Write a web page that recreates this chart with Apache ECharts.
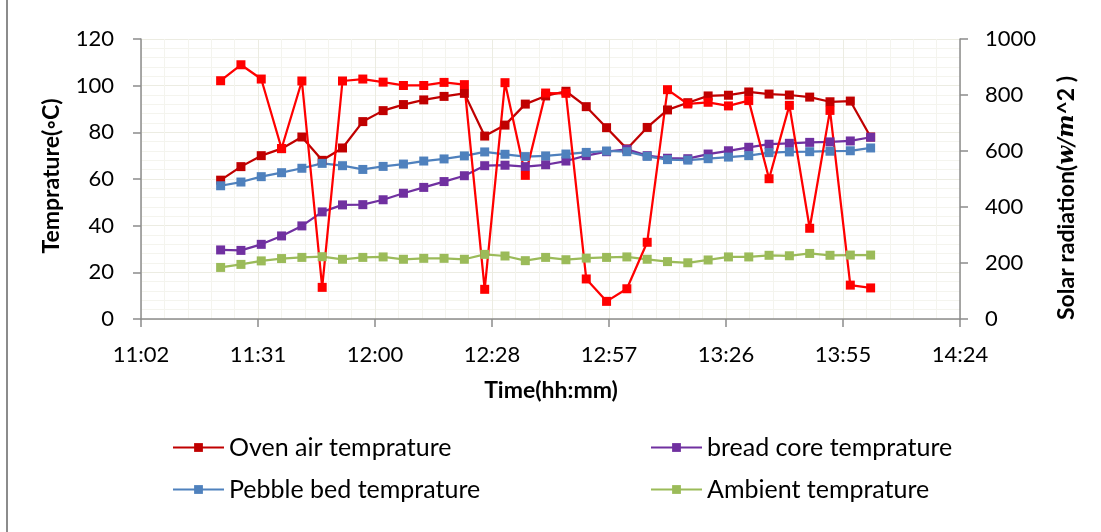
<!DOCTYPE html>
<html><head><meta charset="utf-8">
<script src="https://cdn.jsdelivr.net/npm/echarts@6/dist/echarts.min.js"></script>
<style>html,body{margin:0;padding:0;background:#fff}#c{width:1101px;height:532px}</style>
</head><body><div id="c"></div>
<script>
const times = ['11:22','11:27','11:32','11:37','11:42','11:47','11:52','11:57','12:02','12:07','12:12','12:17','12:22','12:27','12:32','12:37','12:42','12:47','12:52','12:57','13:02','13:07','13:12','13:17','13:22','13:27','13:32','13:37','13:42','13:47','13:52','13:57','14:02'];
const ovenAir = [59.5,65.3,70,73,78,68,73.3,84.6,89.3,91.9,93.9,95.4,96.7,78.4,83.1,92.1,95.6,97.6,91,82,72.9,82.1,89.6,92.7,95.6,95.9,97.3,96.4,96,95.1,93.1,93.4,78];
const breadCore = [29.6,29.4,32,35.6,39.9,45.9,48.9,49,51.1,53.9,56.4,58.9,61.4,65.7,65.9,65.3,66.1,67.7,70,71.7,72.7,70,68.9,68.7,70.7,72.1,73.6,74.9,75.3,75.7,75.9,76.3,77.9];
const pebbleBed = [57.1,58.7,61,62.7,64.6,66.7,65.7,64.1,65.4,66.4,67.7,68.6,69.9,71.6,70.6,69.6,69.9,70.7,71.4,72,71.7,69.7,68.3,68.1,68.7,69.4,70,71.3,71.6,71.7,71.9,72.1,73.3];
const ambient = [22.1,23.4,24.9,25.9,26.4,26.7,25.6,26.4,26.6,25.6,26,26,25.6,27.7,27,25,26.4,25.4,26.1,26.4,26.6,25.6,24.6,24.1,25.3,26.6,26.6,27.3,27.1,28.1,27.3,27.4,27.4];
const solarRadiation = [851,908,857,609,850,113,850,857,846,834,834,845,837,106,844,513,807,806,143,63,108,274,819,768,774,761,780,501,763,324,745,121,111];
const xTickLabels = ['11:02','11:31','12:00','12:28','12:57','13:26','13:55','14:24'];
const xMinSec = 39744, xMaxSec = 51840, xStepSec = 1728; // 11:02:24 .. 14:24:00, step 28.8 min
const leftTicks = [0,20,40,60,80,100,120];
const rightTicks = [0,200,400,600,800,1000];

const toSec = t => { const [h,m] = t.split(':').map(Number); return h*3600+m*60; };
const pairs = arr => arr.map((v,i)=>[toSec(times[i]), v]);

const FONT = 'Lato';
const axisLineStyle = {color:'#8c8c8c', width:1.5};
const chart = echarts.init(document.getElementById('c'));
function mkSeries(name, data, color, yi){
  return {name, type:'line', yAxisIndex:yi, data:pairs(data), symbol:'rect', symbolSize:9,
    lineStyle:{color, width:2.25}, itemStyle:{color}, showSymbol:true, animation:false};
}
function mkLegend(name, left, top){
  return {data:[name], left, top, padding:0, itemWidth:51, itemHeight:11, itemGap:0,
    textStyle:{fontFamily:FONT, fontSize:25, color:'#000'}, selectedMode:false};
}
chart.setOption({
  animation:false,
  backgroundColor:'#fff',
  grid:{left:141, right:141, top:39, bottom:213, containLabel:false},
  xAxis:{type:'value', min:xMinSec, max:xMaxSec, interval:xStepSec,
    axisLine:{lineStyle:axisLineStyle}, axisTick:{show:true, length:8, lineStyle:axisLineStyle},
    minorTick:{show:true, splitNumber:5, length:0},
    splitLine:{show:true, lineStyle:{color:'#ecece2', width:1}},
    minorSplitLine:{show:true, lineStyle:{color:'#f4f4ee', width:1}},
    axisLabel:{margin:25, fontFamily:FONT, fontSize:22, color:'#000',
      formatter:(v,i)=>xTickLabels[Math.round((v-xMinSec)/xStepSec)]}},
  yAxis:[
    {type:'value', min:leftTicks[0], max:leftTicks[leftTicks.length-1], interval:leftTicks[1]-leftTicks[0], position:'left',
      axisLine:{show:true, lineStyle:axisLineStyle}, axisTick:{show:true, length:8, lineStyle:axisLineStyle},
      minorTick:{show:true, splitNumber:5, length:0},
      splitLine:{show:true, lineStyle:{color:'#ecece2', width:1}},
      minorSplitLine:{show:true, lineStyle:{color:'#f4f4ee', width:1}},
      axisLabel:{margin:27, fontFamily:FONT, fontSize:22, color:'#000', formatter:v=>String(v)}},
    {type:'value', min:rightTicks[0], max:rightTicks[rightTicks.length-1], interval:rightTicks[1]-rightTicks[0], position:'right',
      axisLine:{show:true, lineStyle:axisLineStyle}, axisTick:{show:true, length:8, lineStyle:axisLineStyle},
      splitLine:{show:false},
      axisLabel:{margin:25, fontFamily:FONT, fontSize:22, color:'#000', formatter:v=>String(v)}}
  ],
  legend:[
    mkLegend('Oven air temprature', 172, 435),
    mkLegend('Pebble bed temprature', 172, 477),
    mkLegend('bread core temprature', 650, 435),
    mkLegend('Ambient temprature', 650, 477)
  ],
  series:[
    mkSeries('Oven air temprature', ovenAir, '#c00000', 0),
    mkSeries('bread core temprature', breadCore, '#7030a0', 0),
    mkSeries('Pebble bed temprature', pebbleBed, '#4f81bd', 0),
    mkSeries('Ambient temprature', ambient, '#9bbb59', 0),
    mkSeries('Solar radiation', solarRadiation, '#ff0000', 1)
  ],
  graphic:[
    {type:'line', shape:{x1:7, y1:0, x2:7, y2:532}, style:{stroke:'#8c8c8c', lineWidth:2}, silent:true},
    {type:'text', x:52, y:176, rotation:Math.PI/2, silent:true,
      style:{text:'Temprature(◦C)', fontFamily:FONT, fontWeight:'bold', fontSize:23, fill:'#000', align:'center', verticalAlign:'middle'}},
    {type:'text', x:1067, y:198, rotation:Math.PI/2, silent:true,
      style:{text:'Solar radiation({i|w/m}^2 )', fontFamily:FONT, fontWeight:'bold', fontSize:23, fill:'#000', align:'center', verticalAlign:'middle',
        rich:{i:{fontFamily:'DejaVu Serif', fontStyle:'italic', fontWeight:'bold', fontSize:22, fill:'#000'}}}},
    {type:'text', x:551, y:391, silent:true,
      style:{text:'Time(hh:mm)', fontFamily:FONT, fontWeight:'bold', fontSize:23, fill:'#000', align:'center', verticalAlign:'middle'}}
  ]
});
</script></body></html>
